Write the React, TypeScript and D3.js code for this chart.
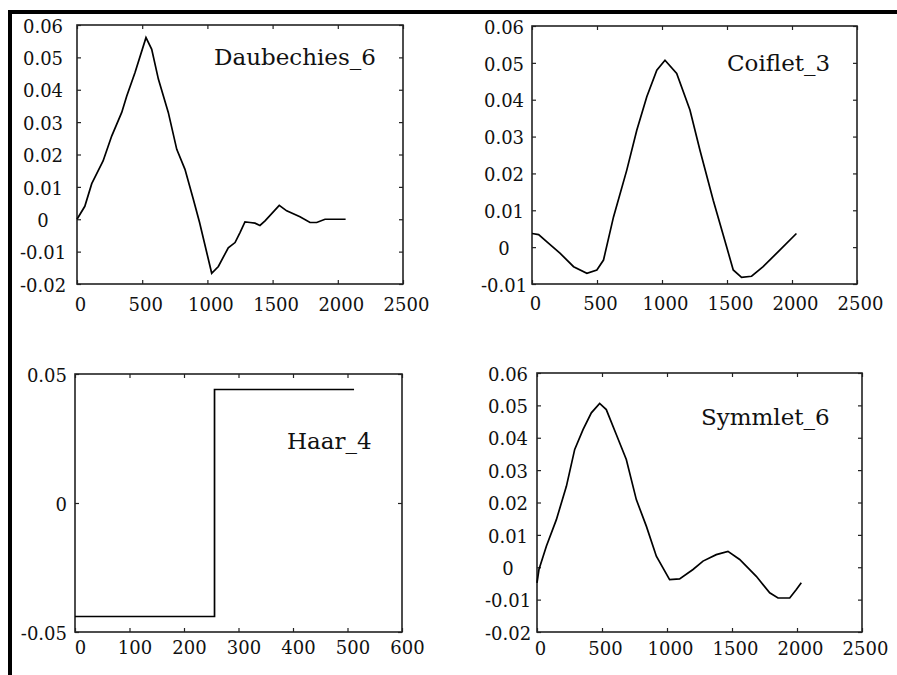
import React, { useRef, useEffect } from 'react';
import * as d3 from 'd3';

// wavelet samples
const daubX = [0, 60, 113, 200, 266, 343, 381, 445, 529, 573, 624, 700, 765, 828, 892, 940, 1033, 1084, 1160, 1212, 1250, 1288, 1327, 1365, 1403, 1442, 1551, 1608, 1710, 1787, 1838, 1902, 2060];
const daubY = [0, 0.004, 0.011, 0.018, 0.0257, 0.033, 0.038, 0.0453, 0.0561, 0.0525, 0.0433, 0.033, 0.0216, 0.0154, 0.0062, -0.001, -0.0167, -0.0146, -0.0088, -0.0072, -0.0041, -0.0008, -0.001, -0.0012, -0.0019, -0.0005, 0.0043, 0.0026, 0.0008, -0.001, -0.001, 0, 0];

const coifX = [0, 51, 115, 217, 320, 422, 499, 550, 627, 729, 806, 883, 960, 1023, 1113, 1215, 1292, 1394, 1497, 1548, 1612, 1689, 1778, 1906, 2034];
const coifY = [0.0037, 0.0034, 0.0014, -0.0017, -0.0053, -0.0071, -0.0062, -0.0035, 0.0082, 0.0209, 0.0317, 0.0408, 0.048, 0.0507, 0.0471, 0.0372, 0.0263, 0.0127, 0.0001, -0.0062, -0.0082, -0.0079, -0.0053, -0.0008, 0.0037];

const haarX = [0, 256, 256, 512];
const haarY = [-0.044, -0.044, 0.044, 0.044];

const symX = [0, 15, 72, 149, 226, 290, 354, 418, 482, 533, 610, 687, 764, 841, 918, 1020, 1097, 1200, 1277, 1379, 1469, 1559, 1687, 1790, 1854, 1944, 1995, 2033];
const symY = [-0.0048, -0.0007, 0.0065, 0.0147, 0.025, 0.0364, 0.0425, 0.0477, 0.0506, 0.0487, 0.041, 0.0333, 0.0209, 0.0127, 0.0034, -0.0038, -0.0036, -0.0007, 0.0019, 0.0039, 0.0049, 0.0024, -0.0028, -0.0079, -0.0095, -0.0095, -0.0069, -0.0048];

// tick values and labels
const longXTicks = [0, 500, 1000, 1500, 2000, 2500];
const haarXTicks = [0, 100, 200, 300, 400, 500, 600];
const daubYTicks = [-0.02, -0.01, 0, 0.01, 0.02, 0.03, 0.04, 0.05, 0.06];
const coifYTicks = [-0.01, 0, 0.01, 0.02, 0.03, 0.04, 0.05, 0.06];
const haarYTicks = [-0.05, 0, 0.05];
const yLabel = (d: number) => (d === 0 ? '0' : d.toFixed(2));

const titles = ['Daubechies_6', 'Coiflet_3', 'Haar_4', 'Symmlet_6'];

const panels = [
  { title: titles[0], xs: daubX, ys: daubY, xDomain: [0, 2500], yDomain: [-0.02, 0.06], xTicks: longXTicks, yTicks: daubYTicks,
    box: { l: 77, r: 403, t: 25, b: 284 }, titlePos: [214, 65], yAnchor: 'middle', yOff: 34, xOff: 3, xPad: 14 },
  { title: titles[1], xs: coifX, ys: coifY, xDomain: [0, 2500], yDomain: [-0.01, 0.06], xTicks: longXTicks, yTicks: coifYTicks,
    box: { l: 532, r: 857, t: 26, b: 284 }, titlePos: [727, 71], yAnchor: 'middle', yOff: 28, xOff: 3, xPad: 13 },
  { title: titles[2], xs: haarX, ys: haarY, xDomain: [0, 600], yDomain: [-0.05, 0.05], xTicks: haarXTicks, yTicks: haarYTicks,
    box: { l: 75, r: 402, t: 374, b: 632 }, titlePos: [287, 449], yAnchor: 'end', yOff: 8, xOff: 5, xPad: 9 },
  { title: titles[3], xs: symX, ys: symY, xDomain: [0, 2500], yDomain: [-0.02, 0.06], xTicks: longXTicks, yTicks: daubYTicks,
    box: { l: 537, r: 862, t: 373, b: 632 }, titlePos: [701, 425], yAnchor: 'middle', yOff: 29, xOff: 3, xPad: 10 },
];

const W = 897;
const H = 675;
const FONT = '"DejaVu Serif", serif';

const App = () => {
  const ref = useRef<SVGSVGElement | null>(null);

  useEffect(() => {
    const svg = d3.select(ref.current);
    svg.selectAll('*').remove();

    svg.append('rect').attr('width', W).attr('height', H).attr('fill', '#fff');

    // heavy page border, top and left only
    svg.append('line').attr('x1', 8).attr('x2', W).attr('y1', 12).attr('y2', 12).attr('stroke', '#000').attr('stroke-width', 4);
    svg.append('line').attr('x1', 10).attr('x2', 10).attr('y1', 10).attr('y2', H).attr('stroke', '#000').attr('stroke-width', 4);

    panels.forEach((p) => {
      const { l, r, t, b } = p.box;
      const x = d3.scaleLinear().domain(p.xDomain).range([l, r]);
      const y = d3.scaleLinear().domain(p.yDomain).range([b, t]);
      const g = svg.append('g');

      // ticks inward on all four sides
      const bottom = g.append('g').attr('transform', `translate(0,${b})`)
        .call(d3.axisBottom(x).tickValues(p.xTicks).tickSize(-4).tickSizeOuter(0).tickPadding(p.xPad).tickFormat((d) => String(d)));
      bottom.selectAll('text').attr('dx', p.xOff);
      g.append('g').attr('transform', `translate(0,${t})`)
        .call(d3.axisTop(x).tickValues(p.xTicks).tickSize(-4).tickSizeOuter(0).tickFormat(() => ''));
      const left = g.append('g').attr('transform', `translate(${l},0)`)
        .call(d3.axisLeft(y).tickValues(p.yTicks).tickSize(-4).tickSizeOuter(0).tickFormat((d) => yLabel(+d)));
      left.selectAll('text').attr('text-anchor', p.yAnchor).attr('x', -p.yOff).attr('dy', '0.4em');
      g.append('g').attr('transform', `translate(${r},0)`)
        .call(d3.axisRight(y).tickValues(p.yTicks).tickSize(-4).tickSizeOuter(0).tickFormat(() => ''));

      g.selectAll('.domain').remove();
      g.selectAll('.tick line').attr('stroke', '#222').attr('stroke-width', 1.2);
      g.selectAll('.tick text').attr('font-family', FONT).attr('font-size', 18).attr('fill', '#111');

      g.append('rect')
        .attr('x', l).attr('y', t).attr('width', r - l).attr('height', b - t)
        .attr('fill', 'none').attr('stroke', '#222').attr('stroke-width', 1.6);

      const pts: [number, number][] = p.xs.map((v, i) => [v, p.ys[i]]);
      const line = d3.line<[number, number]>().x((d) => x(d[0])).y((d) => y(d[1]));
      g.append('path').attr('d', line(pts)).attr('fill', 'none').attr('stroke', '#000').attr('stroke-width', 1.7);

      g.append('text')
        .attr('x', p.titlePos[0]).attr('y', p.titlePos[1])
        .attr('font-family', FONT).attr('font-size', 23).attr('fill', '#111')
        .text(p.title);
    });
  }, []);

  return (
    <svg ref={ref} width={W} height={H} style={{ position: 'absolute', left: 0, top: 0, display: 'block' }} />
  );
};

export default App;
